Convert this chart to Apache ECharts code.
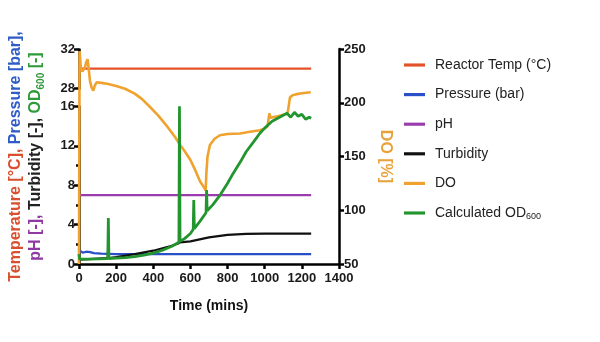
<!DOCTYPE html>
<html>
<head>
<meta charset="utf-8">
<script src="https://cdn.jsdelivr.net/npm/echarts@6/dist/echarts.min.js"></script>
<style>html,body{margin:0;padding:0;background:#fff;}#c{width:600px;height:342px;}</style>
</head>
<body>
<div id="c"></div>
<script>
// ---- data (time in mins) ----
var xTicks = [0, 200, 400, 600, 800, 1000, 1200, 1400];
var leftTicks = [0, 4, 8, 12, 16, 28, 32];
var rightTicks = [50, 100, 150, 200, 250];

var seriesNames = ['Reactor Temp (°C)', 'Pressure (bar)', 'pH', 'Turbidity', 'DO', 'Calculated OD600'];

var tempTime = [0, 1250];
var tempVal = [30, 30];

var pressTime = [0, 5, 20, 40, 60, 80, 120, 200, 400, 1250];
var pressVal = [0.8, 1.35, 1.15, 1.25, 1.2, 1.1, 1.05, 1.0, 1.0, 1.0];

var phTime = [0, 1250];
var phVal = [7, 7];

var turbTime = [0, 3, 50, 100, 155, 158, 161, 200, 300, 400, 450, 500, 538, 541, 544, 600, 650, 700, 800, 900, 1000, 1100, 1250];
var turbVal = [1.5, 0.45, 0.5, 0.55, 0.6, 2.45, 0.6, 0.7, 1.0, 1.35, 1.6, 1.85, 2.1, 3.1, 2.2, 2.3, 2.5, 2.7, 2.95, 3.05, 3.08, 3.08, 3.08];

var doTime = [0, 3, 10, 18, 30, 40, 46, 52, 59, 68, 77, 85, 95, 120, 158, 200, 248, 300, 338, 380, 427, 470, 517, 545, 571, 600, 625, 652, 670, 682, 686, 692, 705, 730, 759, 800, 867, 920, 975, 1000, 1015, 1020, 1025, 1032, 1040, 1080, 1118, 1125, 1136, 1150, 1172, 1210, 1248];
var doVal = [50, 248, 232, 229, 232, 238, 240.5, 232, 220.5, 214, 211.3, 216, 219, 218.5, 217.5, 215.5, 213, 208.5, 203.6, 196.5, 188, 179, 168.2, 160.6, 154.4, 146.8, 137.6, 126.8, 122, 118.5, 135, 150, 160.6, 166.5, 169.8, 171, 171.4, 173, 174.4, 176, 178, 179, 190, 186, 186.7, 188, 189.8, 192, 205, 207, 208, 209, 209.7];

var odTime = [0, 3, 50, 100, 155, 158, 161, 200, 250, 300, 350, 400, 450, 500, 538, 541, 544, 570, 600, 615, 618, 621, 650, 684, 687, 690, 720, 760, 800, 830, 870, 900, 940, 975, 1000, 1040, 1070, 1100, 1120, 1140, 1160, 1180, 1200, 1220, 1240, 1250];
var odVal = [1.0, 0.5, 0.5, 0.52, 0.55, 4.66, 0.56, 0.6, 0.65, 0.75, 0.9, 1.1, 1.4, 1.8, 2.2, 16.05, 2.3, 2.6, 3.1, 3.5, 6.5, 3.6, 4.3, 5.2, 7.5, 5.4, 6.0, 7.0, 8.2, 9.2, 10.4, 11.4, 12.4, 13.3, 13.8, 14.5, 14.8, 15.1, 15.3, 14.9, 15.4, 15.0, 15.2, 14.7, 14.9, 14.8];

var colors = ['#e4522a', '#2a50c8', '#9a3cad', '#111111', '#f0a22e', '#23952f'];

function pairs(t, v) { return t.map(function (x, i) { return [x, v[i]]; }); }
function plain(v) { return String(v); }

var chart = echarts.init(document.getElementById('c'), null, { renderer: 'canvas' });
var FF = 'Liberation Sans, Arial, sans-serif';
var tickFont = { fontFamily: FF, fontWeight: 'bold', fontSize: 13, color: '#1a1a1a', formatter: plain };
var axisBlack = { color: '#000', width: 2.5 };

function mkSeries(i, t, v, axis, w) {
  return {
    name: seriesNames[i], type: 'line', yAxisIndex: axis, data: pairs(t, v),
    showSymbol: false, symbol: 'none', silent: true, animation: false,
    lineStyle: { color: colors[i], width: w }, itemStyle: { color: colors[i] }
  };
}

var option = {
  animation: false,
  color: colors,
  grid: { left: 79, right: 261, top: 49, bottom: 78, containLabel: false, outerBoundsMode: 'none' },
  legend: {
    orient: 'vertical', left: 404, top: 58, padding: 0, itemWidth: 21, itemHeight: 14, itemGap: 15.6,
    icon: 'path://M0,0h20v3h-20z',
    data: seriesNames,
    textStyle: {
      fontFamily: FF, fontSize: 14, color: '#222', padding: [0, 0, 0, 5],
      rich: {
        n: { fontFamily: FF, fontSize: 14, color: '#222', lineHeight: 16 },
        s: { fontFamily: FF, fontSize: 9, color: '#222', lineHeight: 9, verticalAlign: 'bottom' }
      }
    },
    formatter: function (name) {
      if (name === 'Calculated OD600') return '{n|Calculated OD}{s|600}';
      return name;
    }
  },
  xAxis: {
    type: 'value', min: 0, max: 1400, interval: 200,
    name: 'Time (mins)', nameLocation: 'middle', nameGap: 35,
    nameTextStyle: { fontFamily: FF, fontWeight: 'bold', fontSize: 14, color: '#111' },
    axisLine: { show: true, onZero: false, lineStyle: axisBlack },
    axisTick: { show: true, length: 5, lineStyle: axisBlack, customValues: xTicks },
    axisLabel: Object.assign({ margin: 8, customValues: xTicks }, tickFont),
    splitLine: { show: false }
  },
  yAxis: [{
    type: 'value', min: 0, max: 32, interval: 4, position: 'left',
    breaks: [{ start: 16, end: 28, gap: 1.83 }],
    breakArea: { show: false },
    name: '{r|Temperature [°C],} {b|Pressure [bar],}\n{p|pH [-],} {k|Turbidity [-],} {g|OD}{gs|600}{g| [-]}',
    nameLocation: 'middle', nameRotate: 90, nameGap: 33,
    nameTextStyle: {
      fontFamily: FF, fontWeight: 'bold', fontSize: 16, lineHeight: 20,
      rich: {
        r: { color: '#d9502e', fontWeight: 'bold', fontSize: 16, lineHeight: 20 },
        b: { color: '#2f5cc6', fontWeight: 'bold', fontSize: 16, lineHeight: 20 },
        p: { color: '#8e3aa2', fontWeight: 'bold', fontSize: 16, lineHeight: 20 },
        k: { color: '#222', fontWeight: 'bold', fontSize: 16, lineHeight: 20 },
        g: { color: '#2f9a3a', fontWeight: 'bold', fontSize: 16, lineHeight: 20 },
        gs: { color: '#2f9a3a', fontWeight: 'bold', fontSize: 10, lineHeight: 10, verticalAlign: 'bottom' }
      }
    },
    axisLine: { show: true, onZero: false, lineStyle: axisBlack },
    axisTick: { show: true, length: 5, lineStyle: axisBlack },
    minorTick: { show: true, splitNumber: 2, length: 3, lineStyle: { color: '#000', width: 2.5 } },
    axisLabel: Object.assign({ margin: 4 }, tickFont),
    splitLine: { show: false }
  }, {
    type: 'value', min: 50, max: 250, interval: 50, position: 'right',
    name: 'DO [%]', nameLocation: 'middle', nameRotate: -90, nameGap: 38,
    nameTextStyle: { fontFamily: FF, fontWeight: 'bold', fontSize: 16, color: '#e8a23c' },
    axisLine: { show: true, onZero: false, lineStyle: axisBlack },
    axisTick: { show: true, length: 5, lineStyle: axisBlack },
    axisLabel: Object.assign({ margin: 5 }, tickFont),
    splitLine: { show: false }
  }],
  series: [
    mkSeries(0, tempTime, tempVal, 0, 2.2),
    mkSeries(1, pressTime, pressVal, 0, 2.2),
    mkSeries(2, phTime, phVal, 0, 2.2),
    mkSeries(3, turbTime, turbVal, 0, 2.2),
    mkSeries(4, doTime, doVal, 1, 2.6),
    mkSeries(5, odTime, odVal, 0, 2.8)
  ]
};
chart.setOption(option);
</script>
</body>
</html>
